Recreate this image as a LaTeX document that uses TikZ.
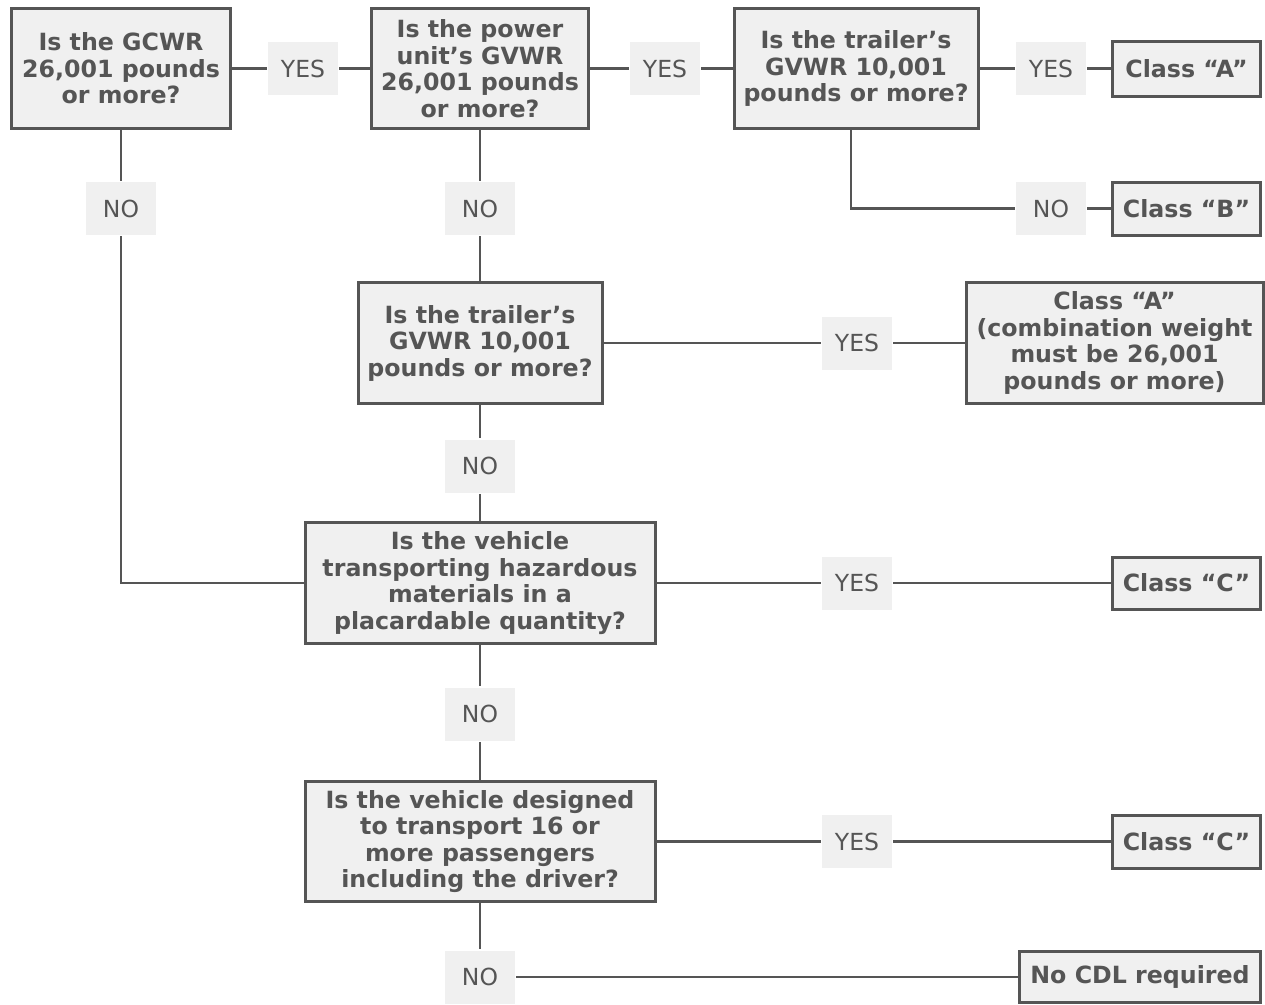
\documentclass[tikz,border=0pt]{standalone}
\usepackage{fontspec}
\setmainfont{DejaVu Sans}
\usetikzlibrary{positioning}
\definecolor{boxfill}{HTML}{F0F0F0}
\definecolor{ink}{HTML}{555555}
\tikzset{
	question/.style={
		draw=ink,
		fill=boxfill,
		line width=3pt,
		text=ink,
		align=center,
		inner sep=0pt,
		font=\fontsize{23.7}{26.5}\selectfont\bfseries,
	},
	answer/.style={
		fill=boxfill,
		text=ink,
		inner sep=0pt,
		minimum width=70pt,
		minimum height=53pt,
		font=\fontsize{23.5}{26}\selectfont,
	}
}
\tikzset{
	every picture/.append style={line width=2.7pt, ink}
}
\begin{document}
\begin{tikzpicture}[x=1pt, y=-1pt]
\useasboundingbox (0,0) rectangle (1265,1004);

\begin{scope}[every node/.append style={question}]
\node[minimum width=219, minimum height=120](q1) at(121,68.5){Is the GCWR\\26,001 pounds\\or more?};
\node[minimum width=217, minimum height=120](q2) at(480,68.5){Is the power\\unit’s GVWR\\26,001 pounds\\or more?};
\node[minimum width=244, minimum height=120](q3) at(856,68.5){Is the trailer’s\\GVWR 10,001\\pounds or more?};
\node[minimum width=244, minimum height=121](q4) at(480,343){Is the trailer’s\\GVWR 10,001\\pounds or more?};
\node[minimum width=350, minimum height=121](q6) at(480,583){Is the vehicle\\transporting hazardous\\materials in a\\placardable quantity?};
\node[minimum width=350, minimum height=120](q7) at(480,841.5){Is the vehicle designed\\to transport 16 or\\more passengers\\including the driver?};

\node[minimum width=148, minimum height=55](a1) at(1186.5,68.5){Class “A”};
\node[minimum width=148, minimum height=53](b1) at(1186.5,208.5){Class “B”};
\node[minimum width=297, minimum height=121](a2) at(1114.5,343){Class “A”\\(combination weight\\must be 26,001\\pounds or more)};
\node[minimum width=148, minimum height=52](c1) at(1186.5,583){Class “C”};
\node[minimum width=148, minimum height=53](c2) at(1186.5,841.5){Class “C”};
\node[minimum width=241, minimum height=51](d1) at(1140,977){No CDL required};
\end{scope}

\begin{scope}[every node/.append style={answer}]
\node(y1) at(303,68.5){YES};
\node(y2) at(665,68.5){YES};
\node(y3) at(1051,68.5){YES};
\node(y4) at(857,343){YES};
\node(y6) at(857,583){YES};
\node(y7) at(857,841.5){YES};

\node(n1) at(121,208.5){NO};
\node(n2) at(480,208.5){NO};
\node(n3) at(1051,208.5){NO};
\node(n4) at(480,466){NO};
\node(n6) at(480,714){NO};
\node(n7) at(480,977){NO};
\end{scope}

\coordinate(k1) at(851,208.5);
\coordinate(k2) at(121,583);

\foreach \x/\y in {%
q1/y1, y1/q2, q2/y2, y2/q3, q3/y3, y3/a1%
,q1/n1, q2/n2, n2/q4, n3/b1%
,q4/y4, y4/a2, q4/n4, n4/q6%
,q6/y6, y6/c1, q6/n6, n6/q7%
,q7/y7, y7/c2, q7/n7, n7/d1%
}{
	\draw (\x) -- (\y);
}

\draw (q3.south -| k1) -- (k1) -- (n3);
\draw (n1) -- (k2) -- (q6);
\end{tikzpicture}
\end{document}
